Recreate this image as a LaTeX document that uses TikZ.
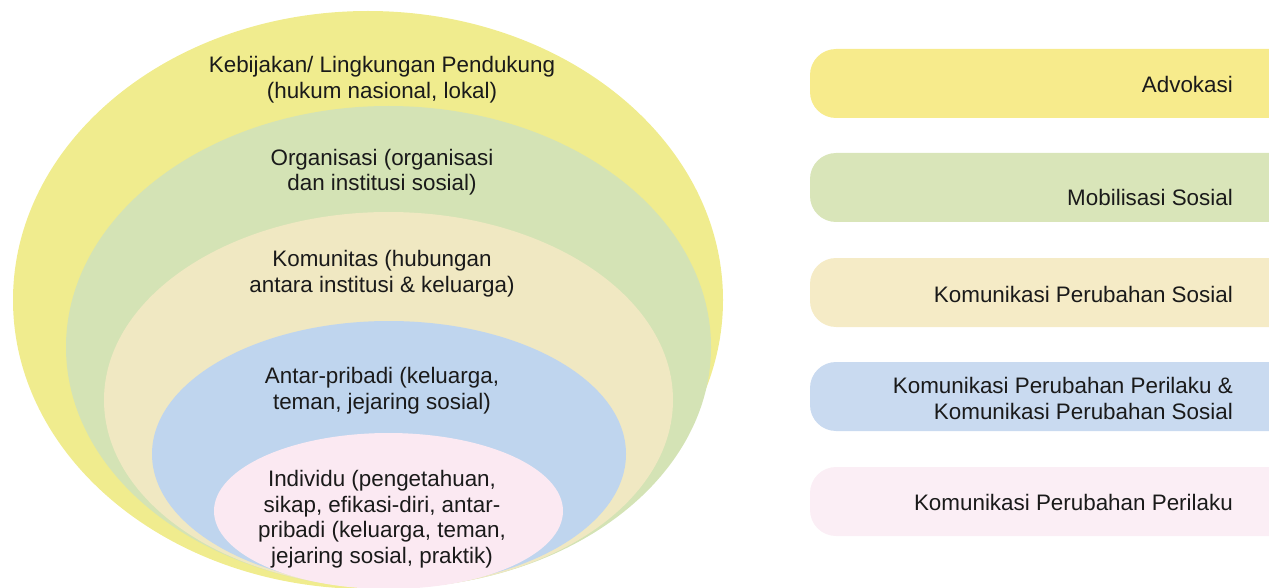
\documentclass[tikz,border=0pt]{standalone}
\usepackage{fontspec}
\setmainfont{Liberation Sans}
\definecolor{eY}{HTML}{F0EC8E}
\definecolor{eG}{HTML}{D4E3B5}
\definecolor{eB}{HTML}{F0E8C2}
\definecolor{eL}{HTML}{BFD5EE}
\definecolor{eP}{HTML}{FBE9F2}
\definecolor{bY}{HTML}{F7EB8C}
\definecolor{bG}{HTML}{D9E5B9}
\definecolor{bB}{HTML}{F5EBC6}
\definecolor{bL}{HTML}{C9DAF0}
\definecolor{bP}{HTML}{FBEEF5}
\definecolor{ink}{HTML}{1A1A1A}
\begin{document}
\begin{tikzpicture}[x=1pt,y=-1pt,
  lbl/.style={align=center,font=\fontsize{22.4}{25.5}\selectfont,inner sep=0pt,text=ink},
  rlbl/.style={align=right,anchor=east,font=\fontsize{22.4}{26}\selectfont,inner sep=0pt,text=ink},
  band/.style={rounded corners=26pt}]
\useasboundingbox (0,0) rectangle (1269,588);
\clip (0,0) rectangle (1269,588);
% nested ellipses
\fill[eY] (368,300) ellipse [x radius=355pt, y radius=289pt];
\fill[eG] (388.5,347) ellipse [x radius=322.5pt, y radius=241pt];
\fill[eB] (388.5,400) ellipse [x radius=284.5pt, y radius=188pt];
\fill[eL] (389,454) ellipse [x radius=237pt, y radius=133pt];
\fill[eP] (388.5,511) ellipse [x radius=174.5pt, y radius=78pt];
% ellipse labels
\node[lbl] (kebijakan) at (382,79.5) {Kebijakan/ Lingkungan Pendukung\\(hukum nasional, lokal)};
\node[lbl] (organisasi) at (382,172) {Organisasi (organisasi\\dan institusi sosial)};
\node[lbl] (komunitas) at (382,273.5) {Komunitas (hubungan\\antara institusi \& keluarga)};
\node[lbl] (antarpribadi) at (382,390.5) {Antar-pribadi (keluarga,\\teman, jejaring sosial)};
\node[lbl] (individu) at (382,519) {Individu (pengetahuan,\\sikap, efikasi-diri, antar-\\pribadi (keluarga, teman,\\jejaring sosial, praktik)};
% right bands
\fill[bY,band] (810,49) rectangle (1300,118);
\fill[bG,band] (810,153) rectangle (1300,222);
\fill[bB,band] (810,258) rectangle (1300,327);
\fill[bL,band] (810,362) rectangle (1300,431);
\fill[bP,band] (810,467) rectangle (1300,536);
\node[rlbl] (advokasi) at (1233,84) {Advokasi};
\node[rlbl] (mobilisasi) at (1233,197) {Mobilisasi Sosial};
\node[rlbl] (kps) at (1233,294) {Komunikasi Perubahan Sosial};
\node[rlbl] (kppkps) at (1233,398) {Komunikasi Perubahan Perilaku \&\\Komunikasi Perubahan Sosial};
\node[rlbl] (kpp) at (1233,502) {Komunikasi Perubahan Perilaku};
\end{tikzpicture}
\end{document}
